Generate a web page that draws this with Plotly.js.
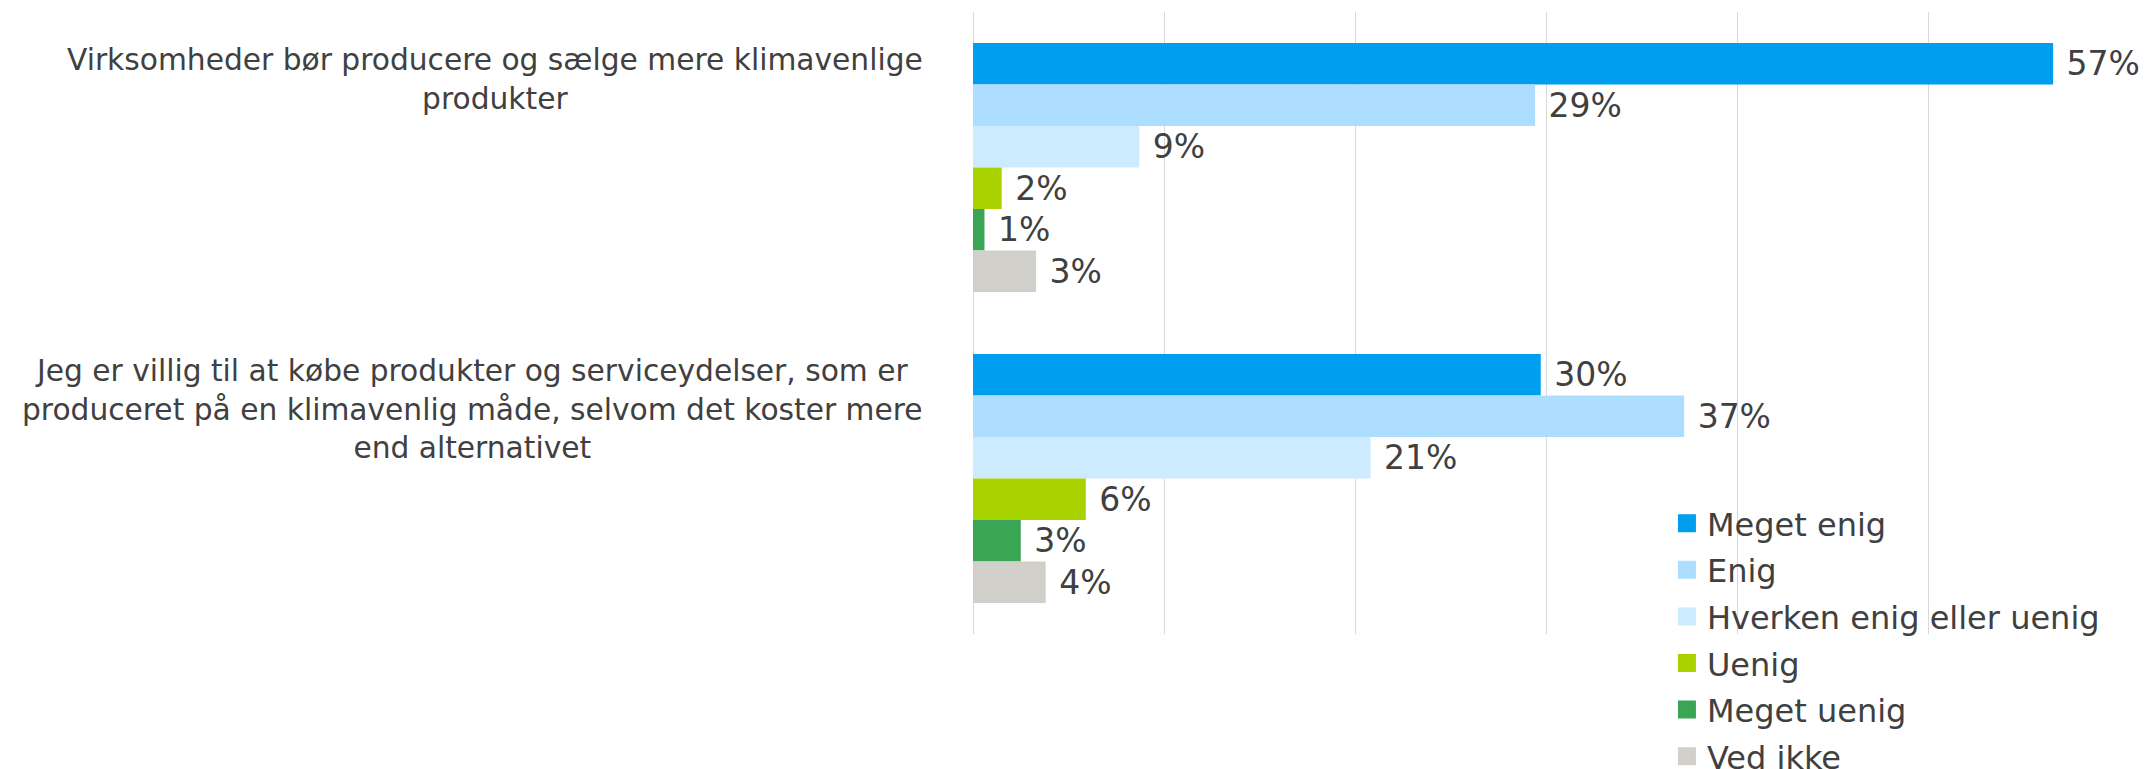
<!DOCTYPE html>
<html>
<head>
<meta charset="utf-8">
<script src="https://cdn.plot.ly/plotly-3.0.1.min.js"></script>
<style>html,body{margin:0;padding:0;background:#fff;}#chart{width:2149px;height:769px;}</style>
</head>
<body>
<div id="chart"></div>
<script>
const categories = [
  "Virksomheder bør producere og sælge mere klimavenlige<br>produkter",
  "Jeg er villig til at købe produkter og serviceydelser, som er<br>produceret på en klimavenlig måde, selvom det koster mere<br>end alternativet"
];
const seriesNames = ["Meget enig", "Enig", "Hverken enig eller uenig", "Uenig", "Meget uenig", "Ved ikke"];
const megetEnig = [56.5, 29.7];
const enig = [29.4, 37.2];
const hverken = [8.7, 20.8];
const uenig = [1.5, 5.9];
const megetUenig = [0.6, 2.5];
const vedIkke = [3.3, 3.8];
const seriesValues = [megetEnig, enig, hverken, uenig, megetUenig, vedIkke];
const colors = ["#009EEF", "#ADDEFF", "#CCEBFF", "#A9D300", "#3AA655", "#D0CFCA"];

const FONT = '"DejaVu Sans", Verdana, sans-serif';
const TXT = '#404040';

const barTraces = seriesNames.map((name, i) => ({
  type: 'bar',
  orientation: 'h',
  name: name,
  showlegend: false,
  y: categories,
  x: seriesValues[i],
  marker: {color: colors[i]},
  texttemplate: '\u00a0%{x:.0f}%',
  textposition: 'outside',
  constraintext: 'none',
  cliponaxis: false,
  textfont: {family: FONT, size: 33, color: TXT},
  hoverinfo: 'skip'
}));

// legend-only entries (larger square swatches)
const legendTraces = seriesNames.map((name, i) => ({
  type: 'scatter',
  mode: 'markers',
  name: name,
  legendgroup: 'g' + i,
  x: [null], y: [null],
  marker: {symbol: 'square', size: 16, color: colors[i], line: {color: colors[i], width: 2}},
  hoverinfo: 'skip'
}));

const annotations = categories.map((c, i) => ({
  xref: 'paper', yref: 'y',
  x: 0, y: i - 0.4,
  xanchor: 'right', yanchor: 'top',
  xshift: -48, yshift: 3,
  align: 'center',
  showarrow: false,
  text: c,
  font: {family: FONT, size: 29.7, color: TXT}
}));

const layout = {
  width: 2149, height: 769,
  margin: {l: 973, r: 29, t: 12, b: 135, autoexpand: false},
  paper_bgcolor: '#ffffff', plot_bgcolor: '#ffffff',
  barmode: 'group', bargap: 0.2, bargroupgap: 0,
  font: {family: FONT, color: TXT},
  xaxis: {range: [0, 60], dtick: 10, showgrid: true, gridcolor: '#D9D9D9', gridwidth: 1,
          zeroline: true, zerolinecolor: '#D9D9D9', zerolinewidth: 1,
          showticklabels: false, ticks: '', showline: false, fixedrange: true},
  yaxis: {type: 'category', range: [1.5, -0.5], autorange: false, showticklabels: false, ticks: '',
          showgrid: false, zeroline: false, showline: false, fixedrange: true},
  showlegend: true,
  legend: {x: 0.605, y: 0.222, xanchor: 'left', yanchor: 'top', traceorder: 'grouped',
           tracegroupgap: 2, font: {family: FONT, size: 32, color: TXT},
           bgcolor: 'rgba(0,0,0,0)'},
  annotations: annotations
};

Plotly.newPlot('chart', barTraces.concat(legendTraces), layout, {displayModeBar: false, staticPlot: true});
</script>
</body>
</html>
